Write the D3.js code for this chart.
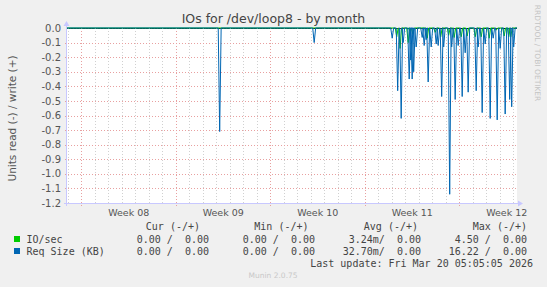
<!DOCTYPE html>
<html>
<head>
<meta charset="utf-8">
<script src="https://cdn.jsdelivr.net/npm/d3@7"></script>
<style>
  html, body { margin: 0; padding: 0; background: #f0f0f0; }
  svg { display: block; }
  text { white-space: pre; }
</style>
</head>
<body>
<svg id="chart" width="547" height="287"></svg>
<script>
// spike times, in days after Monday of week 08 (2026-02-16 00:00 UTC)
const reqSizeDays = [10.237, 17.237, 23.015, 23.422, 23.681, 23.830, 24.274, 24.385, 24.496, 24.607,
  24.793, 25.237, 25.385, 25.533, 25.681, 25.904, 26.274, 26.422, 26.681, 26.830,
  27.274, 27.422, 27.681, 27.904, 28.200, 28.422, 28.644, 29.237, 29.385, 29.681,
  29.904, 30.274, 30.496, 30.793, 31.015, 31.385, 31.719, 31.867, 32.015];
const reqSizeValues = [-0.71, -0.10, -0.07, -0.43, -0.62, -0.10, -0.35, -0.22, -0.35, -0.30,
  -0.13, -0.065, -0.12, -0.08, -0.37, -0.13, -0.11, -0.12, -0.47, -0.13,
  -1.14, -0.13, -0.49, -0.12, -0.47, -0.17, -0.44, -0.43, -0.13, -0.58,
  -0.11, -0.62, -0.07, -0.63, -0.14, -0.59, -0.49, -0.54, -0.13];

const ioDays = [23.35, 23.60, 24.20, 24.33, 24.54, 25.61, 26.20, 26.61, 27.20, 27.61,
  28.13, 28.57, 29.17, 29.61, 30.20, 30.72, 31.31, 31.65, 31.80];
const ioValues = [-0.06, -0.14, -0.10, -0.02, -0.04, -0.07, -0.03, -0.06, -0.05, -0.065,
  -0.06, -0.055, -0.06, -0.06, -0.07, -0.015, -0.055, -0.06, -0.06];

const yTickValues = [0.0, -0.1, -0.2, -0.3, -0.4, -0.5, -0.6, -0.7, -0.8, -0.9, -1.0, -1.1, -1.2];

const legendNames = ["IO/sec", "Req Size (KB)"];
const legendColors = ["#00cc00", "#0066b3"];
const curCol = ["0.00 /  0.00", "0.00 /  0.00"];
const minCol = ["0.00 /  0.00", "0.00 /  0.00"];
const avgCol = ["3.24m/  0.00", "32.70m/  0.00"];
const maxCol = ["4.50 /  0.00", "16.22 /  0.00"];

const svg = d3.select("#chart");
const margin = { top: 28, right: 30, bottom: 84, left: 67 };
const width = 547, height = 287;

const DAY = 86400000;
const weekStart = Date.UTC(2026, 1, 16);
const step = 2.6 / 24; // width of one consolidated sample, in days

const x = d3.scaleUtc()
  .domain([new Date(weekStart - 1.073 * DAY), new Date(weekStart + 32.26 * DAY)])
  .range([margin.left, width - margin.right]);

const y = d3.scaleLinear()
  .domain([-1.2, 0])
  .range([height - margin.bottom, margin.top]);

const t = d => new Date(weekStart + d * DAY);

// plot background
svg.append("rect")
  .attr("x", x.range()[0]).attr("y", y(0))
  .attr("width", x.range()[1] - x.range()[0])
  .attr("height", y(-1.2) - y(0))
  .attr("fill", "#ffffff");

// zero line
svg.append("line")
  .attr("x1", x.range()[0]).attr("x2", x.range()[1])
  .attr("y1", y(0) + 0.5).attr("y2", y(0) + 0.5)
  .attr("stroke", "#000").attr("stroke-width", 1);

// grid
const days = d3.utcDay.range(x.domain()[0], x.domain()[1]);
const mondays = d3.utcMonday.range(x.domain()[0], x.domain()[1]);

svg.append("g").selectAll("line")
  .data(days.filter(d => d.getUTCDay() !== 1))
  .join("line")
  .attr("x1", d => Math.round(x(d)) + 0.5).attr("x2", d => Math.round(x(d)) + 0.5)
  .attr("y1", y(0)).attr("y2", y(-1.2) + 2)
  .attr("stroke", "#d0d0d0").attr("stroke-dasharray", "1,2");

svg.append("g").selectAll("line")
  .data(yTickValues.filter(v => v !== 0))
  .join("line")
  .attr("x1", x.range()[0] - 2).attr("x2", x.range()[1])
  .attr("y1", d => Math.round(y(d)) + 0.5).attr("y2", d => Math.round(y(d)) + 0.5)
  .attr("stroke", "#e8a0a0").attr("stroke-dasharray", "1,2");

svg.append("g").selectAll("line")
  .data(mondays)
  .join("line")
  .attr("x1", d => Math.round(x(d)) + 0.5).attr("x2", d => Math.round(x(d)) + 0.5)
  .attr("y1", y(0)).attr("y2", y(-1.2) + 3)
  .attr("stroke", "#e8a0a0").attr("stroke-dasharray", "1,2");

// zero row of dots over the black line
svg.append("line")
  .attr("x1", x.range()[0]).attr("x2", x.range()[1])
  .attr("y1", y(0) + 0.5).attr("y2", y(0) + 0.5)
  .attr("stroke", "#a04040").attr("stroke-dasharray", "1,2").attr("opacity", 0.5);

// series
function spikes(dayArr, valArr) {
  const pts = [[x.domain()[0], 0]];
  dayArr.forEach((d, i) => {
    pts.push([t(d - step), 0], [t(d), valArr[i]], [t(d + step), 0]);
  });
  pts.push([x.domain()[1], 0]);
  return pts;
}

const line = d3.line()
  .x(d => x(d[0]))
  .y(d => y(d[1]));

svg.append("path")
  .datum(spikes(ioDays, ioValues))
  .attr("d", line)
  .attr("fill", "none")
  .attr("stroke", legendColors[0])
  .attr("stroke-width", 1);

svg.append("path")
  .datum(spikes(reqSizeDays, reqSizeValues))
  .attr("d", line)
  .attr("fill", "none")
  .attr("stroke", legendColors[1])
  .attr("stroke-width", 1);

// axes
const axisColor = "#c8c8ff";
svg.append("line")
  .attr("x1", x.range()[0] - 0.5).attr("x2", x.range()[0] - 0.5)
  .attr("y1", y(-1.2) + 3).attr("y2", y(0) - 4)
  .attr("stroke", axisColor);
svg.append("path")
  .attr("d", `M${x.range()[0] - 3.5},${y(0) - 2} L${x.range()[0] - 0.5},${y(0) - 7} L${x.range()[0] + 2.5},${y(0) - 2} Z`)
  .attr("fill", axisColor);
svg.append("line")
  .attr("x1", x.range()[0] - 3).attr("x2", x.range()[1] + 3)
  .attr("y1", y(-1.2) + 0.5).attr("y2", y(-1.2) + 0.5)
  .attr("stroke", axisColor);
svg.append("path")
  .attr("d", `M${x.range()[1] + 1},${y(-1.2) - 2.5} L${x.range()[1] + 6},${y(-1.2) + 0.5} L${x.range()[1] + 1},${y(-1.2) + 3.5} Z`)
  .attr("fill", axisColor);

// y tick labels
svg.append("g").selectAll("text")
  .data(yTickValues)
  .join("text")
  .attr("x", x.range()[0] - 6)
  .attr("y", d => y(d))
  .attr("dy", "0.36em")
  .attr("text-anchor", "end")
  .style("font-family", "DejaVu Sans")
  .style("font-size", "10px")
  .attr("fill", "#555")
  .text(d => d.toFixed(1));

// week labels, centred in the week
svg.append("g").selectAll("text")
  .data(mondays)
  .join("text")
  .attr("x", d => x(d3.utcHour.offset(d, 84)))
  .attr("y", 215.5)
  .attr("text-anchor", "middle")
  .style("font-family", "DejaVu Sans")
  .style("font-size", "9.5px")
  .attr("fill", "#555")
  .text(d => "Week " + d3.utcFormat("%V")(d));

// title and side texts
svg.append("text")
  .attr("x", width / 2).attr("y", 23)
  .attr("text-anchor", "middle")
  .style("font-family", "DejaVu Sans")
  .style("font-size", "12.5px")
  .attr("fill", "#444")
  .text("IOs for /dev/loop8 - by month");

svg.append("text")
  .attr("transform", `translate(15.5,${(y(0) + y(-1.2)) / 2 + 3}) rotate(-90)`)
  .attr("text-anchor", "middle")
  .style("font-family", "DejaVu Sans")
  .style("font-size", "10.5px")
  .attr("fill", "#555")
  .text("Units read (-) / write (+)");

svg.append("text")
  .attr("transform", "translate(534.5,53) rotate(90)")
  .attr("text-anchor", "middle")
  .style("font-family", "DejaVu Sans")
  .style("font-size", "7.5px")
  .attr("fill", "#c4c4c4")
  .text("RRDTOOL / TOBI OETIKER");

// legend
const mono = "DejaVu Sans Mono";
const headers = [["Cur (-/+)", 200], ["Min (-/+)", 308.5], ["Avg (-/+)", 418], ["Max (-/+)", 527]];
svg.append("g").selectAll("text")
  .data(headers)
  .join("text")
  .attr("x", d => d[1]).attr("y", 230)
  .attr("text-anchor", "end")
  .style("font-family", mono).style("font-size", "10px")
  .attr("fill", "#444")
  .text(d => d[0]);

const rowY = [242.5, 254.5];
const cols = [[curCol, 209], [minCol, 315], [avgCol, 421], [maxCol, 527]];

legendNames.forEach((name, i) => {
  svg.append("rect")
    .attr("x", 14).attr("y", rowY[i] - 6.5)
    .attr("width", 6).attr("height", 6)
    .attr("fill", legendColors[i]);
  svg.append("text")
    .attr("x", 26.5).attr("y", rowY[i])
    .style("font-family", mono).style("font-size", "10px")
    .attr("fill", "#444")
    .text(name);
  cols.forEach(([col, xr]) => {
    svg.append("text")
      .attr("x", xr).attr("y", rowY[i])
      .attr("text-anchor", "end")
      .style("font-family", mono).style("font-size", "10px")
      .attr("fill", "#444")
      .text(col[i]);
  });
});

svg.append("text")
  .attr("x", 533).attr("y", 266.5)
  .attr("text-anchor", "end")
  .style("font-family", mono).style("font-size", "10px")
  .attr("fill", "#444")
  .text("Last update: Fri Mar 20 05:05:05 2026");

svg.append("text")
  .attr("x", 248.5).attr("y", 278)
  .style("font-family", "DejaVu Sans")
  .style("font-size", "7.5px")
  .attr("fill", "#c8c8c8")
  .text("Munin 2.0.75");
</script>
</body>
</html>
